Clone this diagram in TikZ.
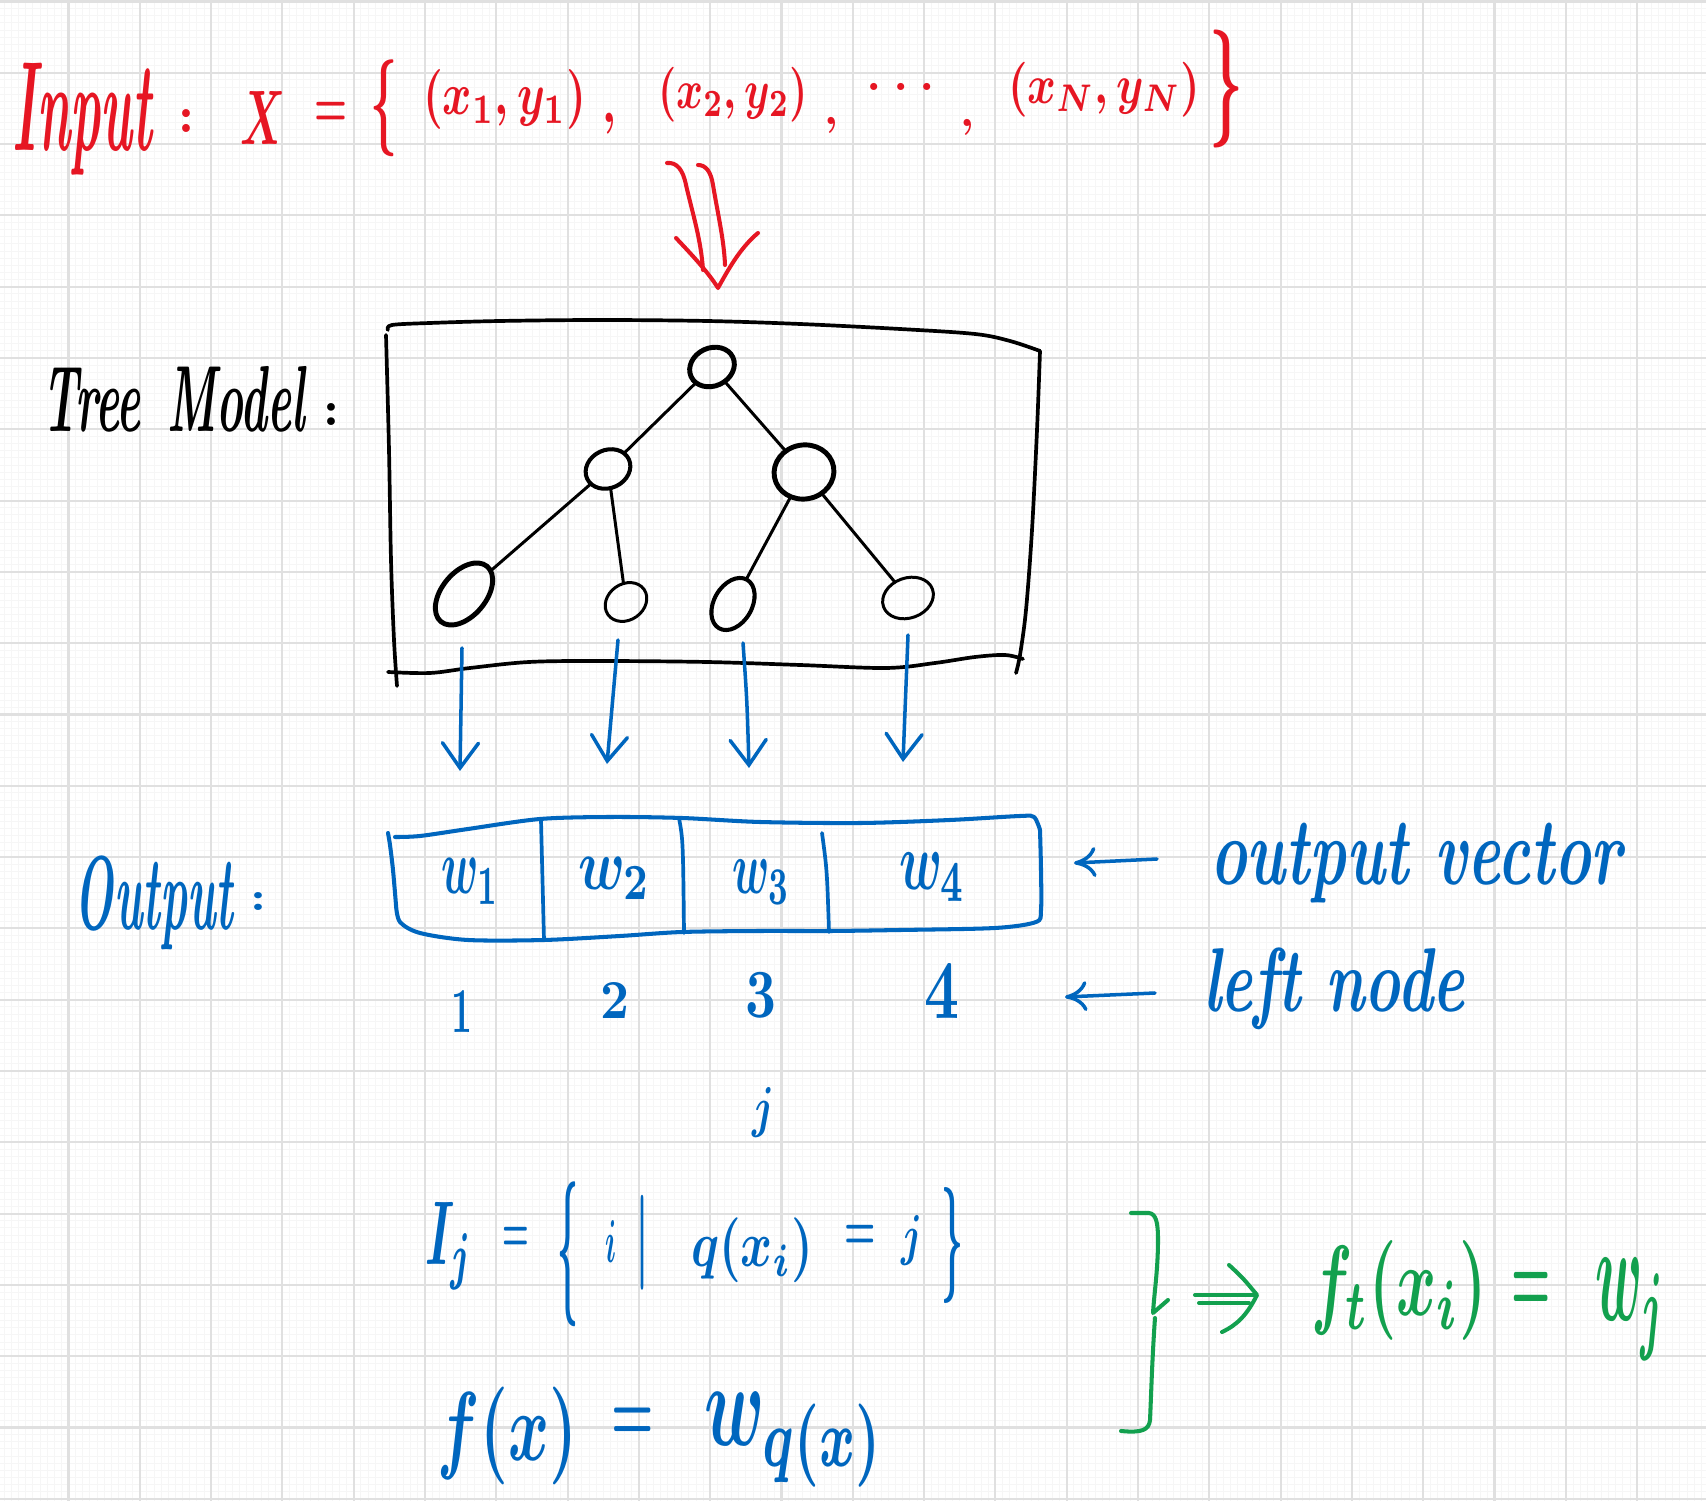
\documentclass[tikz,border=0pt]{standalone}
\usepackage{graphicx}
\usetikzlibrary{arrows.meta,shapes.geometric}
\definecolor{pred}{RGB}{230,22,35}
\definecolor{pblue}{RGB}{0,102,190}
\definecolor{pgreen}{RGB}{18,160,78}
\definecolor{gridmaj}{RGB}{224,224,224}
\definecolor{gridmin}{RGB}{246,246,246}
\newlength\upx
\setlength\upx{0.01cm}
% #1 name, #2 left, #3 right, #4 top, #5 bottom, #6 content
\newcommand\hwtext[6]{%
  \pgfmathsetmacro\hwcx{(#2+#3)/2}%
  \pgfmathsetmacro\hwcy{(#4+#5)/2}%
  \pgfmathsetmacro\hww{#3-#2}%
  \pgfmathsetmacro\hwh{#5-#4}%
  \node[hw] (#1) at (\hwcx,\hwcy) {\resizebox*{\hww\upx}{\hwh\upx}{\boldmath\bfseries #6}};}
% equals sign: #1 name, #2 centre x, #3 centre y, #4 x-scale, #5 y-scale
\newcommand\hweq[5]{%
  \pgfmathsetmacro\hweqy{#3+8.8*#5}%
  \node[inner sep=0pt,outer sep=0pt,anchor=base] (#1) at (#2,\hweqy) {\scalebox{#4}[#5]{\fontsize{10}{12}\selectfont\boldmath$=$}};}
\begin{document}
\begin{tikzpicture}[x=0.01cm,y=-0.01cm,
  hw/.style={inner sep=0pt,outer sep=0pt,anchor=center},
  pen/.style={line cap=round,line join=round},
  treenode/.style={ellipse,draw=black,inner sep=0pt,outer sep=0pt},
  treeedge/.style={pen,black,line width=0.85pt},
  leafarrow/.style={pen,pblue,line width=1pt,-{Straight Barb[length=0.25cm,width=0.36cm,line cap=round]}},
  notearrow/.style={pen,pblue,line width=1pt,-{Computer Modern Rightarrow[length=0.22cm,width=0.3cm]}}]
\useasboundingbox (0,0) rectangle (1706,1501);
\fill[white] (0,0) rectangle (1706,1501);
% grid
\foreach \k in {0,...,240} {
  \draw[gridmin,line width=0.25pt] ({-2.8+7.13*\k},0) -- ({-2.8+7.13*\k},1501);
}
\foreach \k in {0,...,211} {
  \draw[gridmin,line width=0.25pt] (0,{1.5+7.13*\k}) -- (1706,{1.5+7.13*\k});
}
\foreach \k in {1,...,23} {
  \draw[gridmaj,line width=0.6pt] ({-2.8+71.3*\k},0) -- ({-2.8+71.3*\k},1501);
}
\foreach \k in {0,...,21} {
  \draw[gridmaj,line width=0.6pt] (0,{1.5+71.3*\k}) -- (1706,{1.5+71.3*\k});
}

% ---------------- red header ----------------
\begin{scope}[color=pred]
\hwtext{inputlbl}{13}{152}{63}{175}{\itshape Input}
\hwtext{colon1}{178}{194}{110}{133}{:}
\hwtext{Xvar}{240}{285}{92}{145}{$X$}
\hweq{eq1}{331}{111}{1.05}{1.75}
\hwtext{lbrace1}{370}{397}{60}{157}{$\{$}
\hwtext{pair1}{423}{586}{70}{130}{$(x_1, y_1)$}
\hwtext{comma1}{602}{616}{113}{134}{,}
\hwtext{pair2}{658}{808}{67}{122}{$(x_2, y_2)$}
\hwtext{comma2}{824}{838}{117}{133}{,}
\node[inner sep=0pt,anchor=base] (dots) at (901,91) {\fontsize{14}{14}\selectfont\bfseries .\hspace{0.11cm}.\hspace{0.11cm}.};
\hwtext{comma3}{960}{974}{119}{135}{,}
\hwtext{pairN}{1008}{1200}{62}{117}{$(x_N, y_N)$}
\hwtext{rbrace1}{1209}{1243}{30}{148}{$\}$}
% hand-drawn double arrow
\draw[pen,line width=1.15pt] (667,163) .. controls (677,162) and (683,170) .. (686,185)
   .. controls (693,215) and (701,240) .. (703,270);
\draw[pen,line width=1.15pt] (698,165) .. controls (706,165) and (711,172) .. (713,185)
   .. controls (718,215) and (724,240) .. (725,265);
\draw[pen,line width=1.15pt] (676,238) .. controls (692,255) and (708,272) .. (718,288)
   .. controls (728,270) and (740,248) .. (758,233);
\end{scope}

% ---------------- black tree model ----------------
\hwtext{treelbl}{43}{305}{366}{432}{\itshape Tree\hspace{0.6em}Model}
\hwtext{colon2}{323}{339}{404}{426}{:}
\draw[pen,line width=1.05pt] plot[smooth,tension=0.55] coordinates {(388,330) (392,325) (430,323) (500,321) (600,320) (707,321) (800,324) (900,329) (975,334) (1010,341) (1040,351)};
\draw[pen,line width=1.05pt] plot[smooth,tension=0.55] coordinates {(1040,351) (1037,430) (1032,530) (1026,610) (1020,655) (1016,673)};
\draw[pen,line width=1.05pt] plot[smooth,tension=0.55] coordinates {(388,672) (430,673) (470,668) (529,662) (600,661) (707,662) (800,665) (886,668) (935,663) (975,657) (1005,655) (1023,659)};
\draw[pen,line width=1.05pt] plot[smooth,tension=0.55] coordinates {(386,335) (389,450) (391,560) (394,640) (397,686)};

\node[treenode,line width=1.4pt,minimum width=0.46cm,minimum height=0.38cm,rotate=25] (root) at (712,367) {};
\node[treenode,line width=1.15pt,minimum width=0.46cm,minimum height=0.38cm,rotate=25] (lc) at (608,469) {};
\node[treenode,line width=1.4pt,minimum width=0.60cm,minimum height=0.54cm,rotate=10] (rc) at (804,472) {};
\node[treenode,line width=1.4pt,minimum width=0.72cm,minimum height=0.44cm,rotate=50] (leaf1) at (464,594) {};
\node[treenode,line width=0.85pt,minimum width=0.44cm,minimum height=0.36cm,rotate=35] (leaf2) at (626,602) {};
\node[treenode,line width=1.15pt,minimum width=0.56cm,minimum height=0.38cm,rotate=60] (leaf3) at (733,604) {};
\node[treenode,line width=0.85pt,minimum width=0.52cm,minimum height=0.40cm,rotate=20] (leaf4) at (908,598) {};
\draw[treeedge] (root) -- (lc);
\draw[treeedge] (root) -- (rc);
\draw[treeedge] (lc) -- (leaf1);
\draw[treeedge] (lc) -- (leaf2);
\draw[treeedge] (rc) -- (leaf3);
\draw[treeedge] (rc) -- (leaf4);

% ---------------- blue output part ----------------
\begin{scope}[color=pblue]
\hwtext{outlbl}{75}{233}{856}{950}{\itshape Output}
\hwtext{colon3}{250}{266}{893}{911}{:}
\hwtext{w1}{441}{499}{858}{905}{$w_1$}
\hwtext{w2}{578}{651}{857}{900}{$w_2$}
\hwtext{w3}{732}{790}{860}{905}{$w_3$}
\hwtext{w4}{899}{966}{853}{902}{$w_4$}
\hwtext{n1}{451}{472}{990}{1032}{1}
\hwtext{n2}{600}{629}{982}{1018}{2}
\hwtext{n3}{745}{776}{972}{1018}{3}
\hwtext{n4}{924}{959}{963}{1018}{4}
\hwtext{jlbl}{752}{774}{1087}{1137}{$j$}
\hwtext{outvec}{1210}{1622}{823}{903}{\itshape output vector}
\hwtext{leftnode}{1203}{1465}{948}{1030}{\itshape left node}
% output vector box
\draw[pen,line width=1.15pt] plot[smooth,tension=0.5] coordinates {(395,837) (420,836) (468,829) (540,819) (610,817) (682,818) (760,822) (861,823) (950,820) (1020,816) (1034,817) (1040,830)};
\draw[pen,line width=1.15pt] plot[smooth,tension=0.5] coordinates {(1040,830) (1041,870) (1041,910) (1036,922) (995,928) (900,930) (830,931) (760,931) (682,932) (620,936) (544,940) (468,940) (420,933) (400,922) (396,905)};
\draw[pen,line width=1.15pt] plot[smooth,tension=0.5] coordinates {(396,905) (393,870) (390,845) (388,833)};
\draw[pen,line width=1.05pt] (541,820) -- (544,940);
\draw[pen,line width=1.05pt] (679,818) .. controls (683,840) .. (684,933);
\draw[pen,line width=1.05pt] (822,833) .. controls (827,870) .. (829,932);
% arrows leaves -> values
\coordinate (a1s) at (462,648); \coordinate (a1e) at (460,771);
\coordinate (a2s) at (618,640); \coordinate (a2e) at (607,764);
\coordinate (a3s) at (743,643); \coordinate (a3e) at (749,768);
\coordinate (a4s) at (908,635); \coordinate (a4e) at (903,762);
\draw[leafarrow] (a1s) -- (a1e);
\draw[leafarrow] (a2s) -- (a2e);
\draw[leafarrow] (a3s) .. controls (747,700) .. (a3e);
\draw[leafarrow] (a4s) -- (a4e);
% note arrows
\coordinate (ov1) at (1157,859); \coordinate (ov2) at (1074,863);
\coordinate (ln1) at (1155,993); \coordinate (ln2) at (1065,997);
\draw[notearrow] (ov1) -- (ov2);
\draw[notearrow] (ln1) -- (ln2);
% formulas
\hwtext{Ij}{425}{473}{1202}{1290}{$I_j$}
\hweq{eq2}{516}{1236}{0.85}{1.75}
\hwtext{lbrace2}{557}{578}{1182}{1327}{$\{$}
\hwtext{ivar}{605}{616}{1220}{1262}{$i$}
\hwtext{barsym}{635}{649}{1195}{1290}{$|$}
\hwtext{qxi}{691}{813}{1218}{1283}{$q(x_i)$}
\hweq{eq3}{860}{1234}{1.0}{1.75}
\hwtext{jvar}{901}{922}{1215}{1265}{$j$}
\hwtext{rbrace2}{941}{963}{1187}{1303}{$\}$}
\hwtext{fx}{438}{577}{1387}{1485}{$f(x)$}
\hweq{eq4}{633}{1420}{1.35}{2.35}
\hwtext{Wq}{704}{884}{1393}{1487}{$w_{q(x)}$}
\end{scope}

% ---------------- green part ----------------
\begin{scope}[color=pgreen]
\draw[pen,line width=1.15pt] (1131,1213) -- (1149,1213) .. controls (1156,1214) and (1158,1222) .. (1158,1240)
   .. controls (1158,1270) and (1154,1295) .. (1153,1313) -- (1168,1300);
\draw[pen,line width=1.15pt] (1155,1318) .. controls (1152,1360) and (1151,1400) .. (1150,1420)
   .. controls (1149,1430) and (1142,1433) .. (1121,1431);
\coordinate (imp1) at (1195,1295); \coordinate (imp2) at (1255,1295);
\coordinate (imp3) at (1199,1303); \coordinate (imp4) at (1249,1303);
\draw[pen,line width=1.15pt] (imp1) -- (imp2);
\draw[pen,line width=1.15pt] (imp3) -- (imp4);
\draw[pen,line width=1.15pt] (1229,1265) .. controls (1243,1278) .. (1257,1295)
   .. controls (1247,1315) and (1237,1325) .. (1222,1332);
\hwtext{ft}{1311}{1487}{1240}{1340}{$f_t(x_i)$}
\hweq{eq5}{1531}{1287}{1.25}{2.9}
\hwtext{wj}{1595}{1666}{1258}{1360}{$w_j$}
\end{scope}
\end{tikzpicture}
\end{document}
